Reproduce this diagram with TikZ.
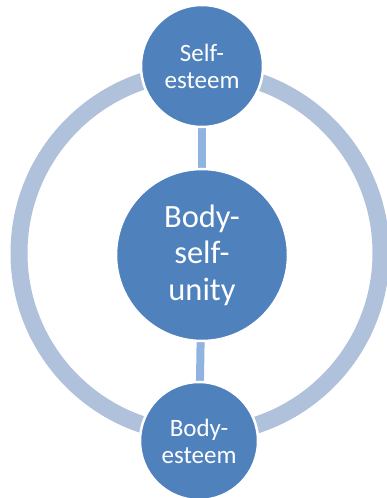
\documentclass[tikz,border=0pt]{standalone}
\usepackage{fontspec}
\setmainfont{Carlito}
\definecolor{ringc}{HTML}{B0C1DC}
\definecolor{linkc}{HTML}{91B3E0}
\definecolor{nodec}{HTML}{4F81BD}
\tikzset{
  bubble/.style={circle,fill=nodec,draw=white,line width=2.5pt,text=white,align=center,inner sep=0pt},
  link/.style={draw=linkc,line width=8pt},
  ring/.style={draw=ringc,line width=17pt}
}
\begin{document}
\begin{tikzpicture}[x=1pt,y=1pt]
\useasboundingbox (0,0) rectangle (387,498);
\draw[ring] (200,245) circle (181);
\coordinate (tc) at (202,432);
\coordinate (cc) at (202,243);
\coordinate (bc) at (199,57);
\draw[link] (tc) -- (cc);
\draw[link] (cc) -- (bc);
\node[bubble,minimum size=122pt,font=\fontsize{25}{27}\selectfont] (top) at (tc) {Self-\\esteem};
\node[bubble,minimum size=172pt,font=\fontsize{32.5}{36.5}\selectfont] (mid) at (cc) {Body-\\self-\\unity};
\node[bubble,minimum size=118pt,font=\fontsize{25}{27}\selectfont] (bot) at (bc) {Body-\\esteem};
\end{tikzpicture}
\end{document}
